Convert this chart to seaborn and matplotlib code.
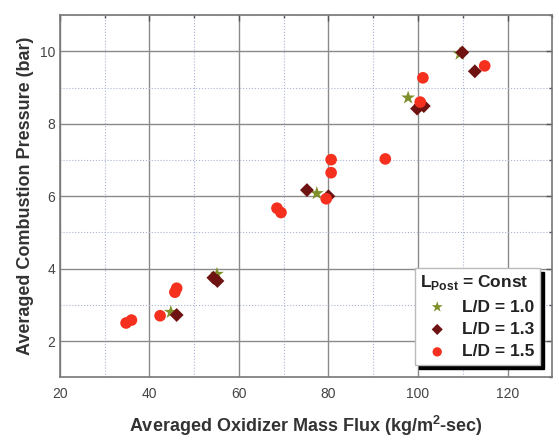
import numpy as np
import pandas as pd
import matplotlib
matplotlib.use("Agg")
import matplotlib.pyplot as plt
from matplotlib.ticker import MultipleLocator
import seaborn as sns

# L/D = 1.0 (stars)
ld10_flux = [44.8, 55.1, 77.4, 97.8, 109.3]
ld10_pres = [2.8, 3.85, 6.08, 8.72, 9.93]
# L/D = 1.3 (diamonds)
ld13_flux = [46.1, 54.3, 55.2, 75.2, 80.0, 99.8, 100.6, 101.3, 109.9, 112.7]
ld13_pres = [2.72, 3.75, 3.66, 6.17, 6.0, 8.42, 8.52, 8.49, 9.97, 9.45]
# L/D = 1.5 (circles)
ld15_flux = [34.8, 36.0, 42.4, 45.7, 46.1, 68.5, 69.4, 79.5, 80.6, 80.6, 92.7, 100.5, 101.1, 114.9]
ld15_pres = [2.5, 2.58, 2.7, 3.35, 3.46, 5.67, 5.55, 5.93, 6.65, 7.01, 7.03, 8.6, 9.27, 9.6]

labels = ["L/D = 1.0", "L/D = 1.3", "L/D = 1.5"]

df = pd.DataFrame({
    "flux": ld10_flux + ld13_flux + ld15_flux,
    "pressure": ld10_pres + ld13_pres + ld15_pres,
    "series": [labels[0]] * len(ld10_flux) + [labels[1]] * len(ld13_flux) + [labels[2]] * len(ld15_flux),
})

palette = {labels[0]: "#7f8f2a", labels[1]: "#6e1212", labels[2]: "#f5301e"}
markers = {labels[0]: "*", labels[1]: "D", labels[2]: "o"}
sizes = {labels[0]: 110, labels[1]: 50, labels[2]: 70}

sns.set_style("white")
plt.rcParams["font.family"] = ["Liberation Sans", "DejaVu Sans"]

fig = plt.figure(figsize=(5.59, 4.46), dpi=100)
ax = fig.add_axes([0.107, 0.154, 0.881, 0.812])

for lab in labels:
    sub = df[df["series"] == lab]
    sns.scatterplot(
        data=sub, x="flux", y="pressure", color=palette[lab], marker=markers[lab],
        s=sizes[lab], edgecolor="none", ax=ax, label=lab, zorder=3,
    )

ax.set_xlim(20, 130)
ax.set_ylim(1, 11)
ax.xaxis.set_major_locator(MultipleLocator(20))
ax.xaxis.set_minor_locator(MultipleLocator(10))
ax.yaxis.set_major_locator(MultipleLocator(2))
ax.yaxis.set_minor_locator(MultipleLocator(1))
ax.grid(which="major", color="#8a8a8a", lw=1.0, ls="-")
ax.grid(which="minor", color="#aab4d8", lw=0.8, ls=":")
ax.set_axisbelow(True)
ax.tick_params(which="both", direction="in", top=True, right=True, color="#555555",
               labelsize=10, labelcolor="#444444")
ax.tick_params(axis="x", which="major", pad=7)
ax.tick_params(which="major", length=4, width=1)
ax.tick_params(which="minor", length=2.5, width=1)
for sp in ax.spines.values():
    sp.set_color("#777777")
    sp.set_linewidth(1.2)

ax.set_xlabel("Averaged Oxidizer Mass Flux (kg/m$^\\mathregular{2}$-sec)",
              fontsize=13, fontweight="bold", color="#333333", labelpad=9.5)
ax.set_ylabel("Averaged Combustion Pressure (bar)",
              fontsize=13, fontweight="bold", color="#333333", labelpad=4)

leg = ax.legend(
    title="L$_\\mathregular{Post}$ = Const", loc="lower right", bbox_to_anchor=(0.975, 0.035),
    borderaxespad=0, frameon=True, fancybox=False,
    shadow={"color": "black", "alpha": 1.0, "ox": 3, "oy": -3},
    prop={"weight": "bold", "size": 12.5}, handletextpad=0.45, borderpad=0.3,
    labelspacing=0.42, markerscale=0.8,
)
leg.get_title().set_fontweight("bold")
leg.get_title().set_fontsize(12.5)
leg.get_title().set_color("#222222")
for t in leg.get_texts():
    t.set_color("#222222")
leg.get_frame().set_edgecolor("#bbbbbb")
leg.get_frame().set_linewidth(1.0)
leg._legend_box.align = "left"

fig.savefig("out.png", dpi=100)
